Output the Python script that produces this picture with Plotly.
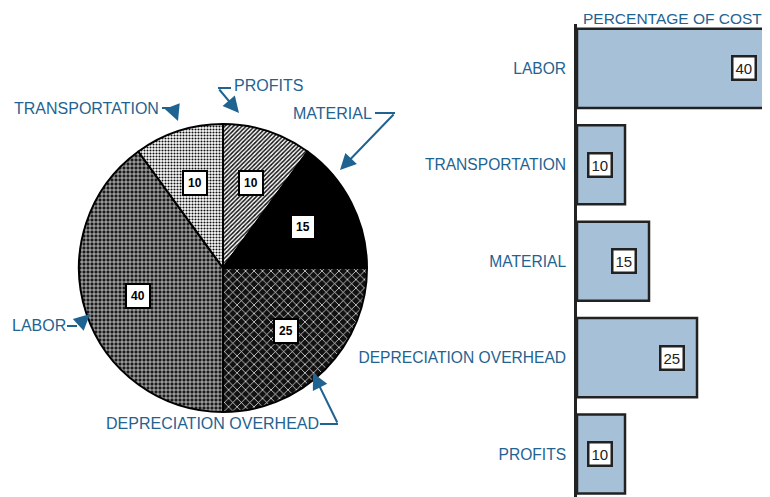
import math
import plotly.graph_objects as go

categories = ["PROFITS", "MATERIAL", "DEPRECIATION OVERHEAD", "LABOR", "TRANSPORTATION"]
values = [10, 15, 25, 40, 10]
bar_categories = ["LABOR", "TRANSPORTATION", "MATERIAL", "DEPRECIATION OVERHEAD", "PROFITS"]
bar_values = [40, 10, 15, 25, 10]

# page has an 8px body margin, so the figure is a bit smaller than the window
OFF = 8
W, H = 770 - OFF, 497 - OFF
blue = "#1f6391"
ink = "#222222"

def P(x, y):
    return (x - OFF) / W, 1 - (y - OFF) / H

cx, cy, R = 223, 268, 144

fig = go.Figure()

px0, py0 = P(cx - R, cy + R)
px1, py1 = P(cx + R, cy - R)
fig.add_trace(go.Pie(
    labels=categories, values=values, sort=False, direction="clockwise", rotation=0,
    textinfo="none", hoverinfo="label+value", showlegend=False,
    domain=dict(x=[px0, px1], y=[py0, py1]),
    marker=dict(
        colors=["white", "black", "#111111", "#111111", "white"],
        line=dict(color="black", width=2),
        pattern=dict(
            shape=["/", "", "x", "+", "."],
            fgcolor=["#111111", "black", "white", "white", "#111111"],
            bgcolor=["white", "black", "#111111", "#1a1a1a", "white"],
            size=[3, 8, 6, 4, 3],
            solidity=[0.5, 0.5, 0.22, 0.3, 0.4],
        ),
    ),
))

fig.add_trace(go.Bar(
    x=bar_values, y=bar_categories, orientation="h", width=0.82,
    marker=dict(color="#a6c1d7", line=dict(color=ink, width=2.5)),
    showlegend=False, xaxis="x", yaxis="y",
))

anns = []
# boxed numbers inside the pie slices
start = 0
total = sum(values)
x0, y0 = P(cx, cy)
for lab, v in zip(categories, values):
    mid = (start + v / 2) / total * 2 * math.pi
    start += v
    dx = math.sin(mid) * R * 0.62
    dy = math.cos(mid) * R * 0.62
    anns.append(dict(x=x0, y=y0, xref="paper", yref="paper", xshift=dx, yshift=dy,
                     xanchor="center", yanchor="middle",
                     text="<b>%d</b>" % v, showarrow=False,
                     font=dict(family="Liberation Sans", size=12, color="black"),
                     bgcolor="white", bordercolor="black", borderwidth=2, borderpad=4))

# boxed numbers in the bars
for lab, v in zip(bar_categories, bar_values):
    anns.append(dict(x=v, y=lab, xref="x", yref="y", xshift=-25, text=str(v), showarrow=False,
                     xanchor="center", yanchor="middle",
                     font=dict(family="Liberation Sans", size=15, color=ink),
                     bgcolor="white", bordercolor=ink, borderwidth=2.5, borderpad=2))

# callout labels: (text, text center, elbow start, elbow corner, arrow tip)
callouts = [
    ("PROFITS", (268, 86), (231, 88), (218, 88), (239, 113)),
    ("MATERIAL", (332, 114), (375, 113), (395, 113), (340, 170)),
    ("TRANSPORTATION", (86, 108), (162, 108), (173, 108), (178, 121)),
    ("LABOR", (39, 325), (67, 326), (77, 326), (90, 314)),
    ("DEPRECIATION OVERHEAD", (212, 423), (320, 424), (338, 424), (313, 373)),
]
shapes = []
for txt, c, s, k, t in callouts:
    x, y = P(*c)
    anns.append(dict(x=x, y=y, xref="paper", yref="paper", text=txt, showarrow=False,
                     xanchor="center", yanchor="middle",
                     font=dict(family="Liberation Sans", size=16, color=blue)))
    tx, ty = P(*t)
    anns.append(dict(x=tx, y=ty, xref="paper", yref="paper", text="", showarrow=True,
                     ax=k[0] - t[0], ay=k[1] - t[1], arrowhead=2, arrowsize=1.6,
                     arrowwidth=2, arrowcolor=blue, standoff=0))
    sx, sy = P(*s)
    kx, ky = P(*k)
    shapes.append(dict(type="line", xref="paper", yref="paper", x0=sx, y0=sy, x1=kx, y1=ky,
                       line=dict(color=blue, width=2)))

x, y = P(672, 8)
anns.append(dict(x=x, y=y, xref="paper", yref="paper", text="PERCENTAGE OF COST", showarrow=False,
                 xanchor="center", yanchor="top",
                 font=dict(family="Liberation Sans", size=15.5, color=blue)))

ax0, ay_top = P(577, 24)
fig.update_layout(
    width=W, height=H, margin=dict(l=0, r=0, t=0, b=0),
    paper_bgcolor="white", plot_bgcolor="white",
    annotations=anns, shapes=shapes,
    xaxis=dict(domain=[ax0, 1], range=[0, 40.2], visible=False, fixedrange=True),
    yaxis=dict(domain=[0, ay_top], range=[4.445, -0.46], categoryorder="array",
               categoryarray=bar_categories, showline=True, linecolor=ink, linewidth=2.5,
               showgrid=False, zeroline=False, ticks="", ticklabelstandoff=5, automargin=False,
               tickfont=dict(family="Liberation Sans", size=15.6, color=blue)),
)

fig.write_html("out.html")
